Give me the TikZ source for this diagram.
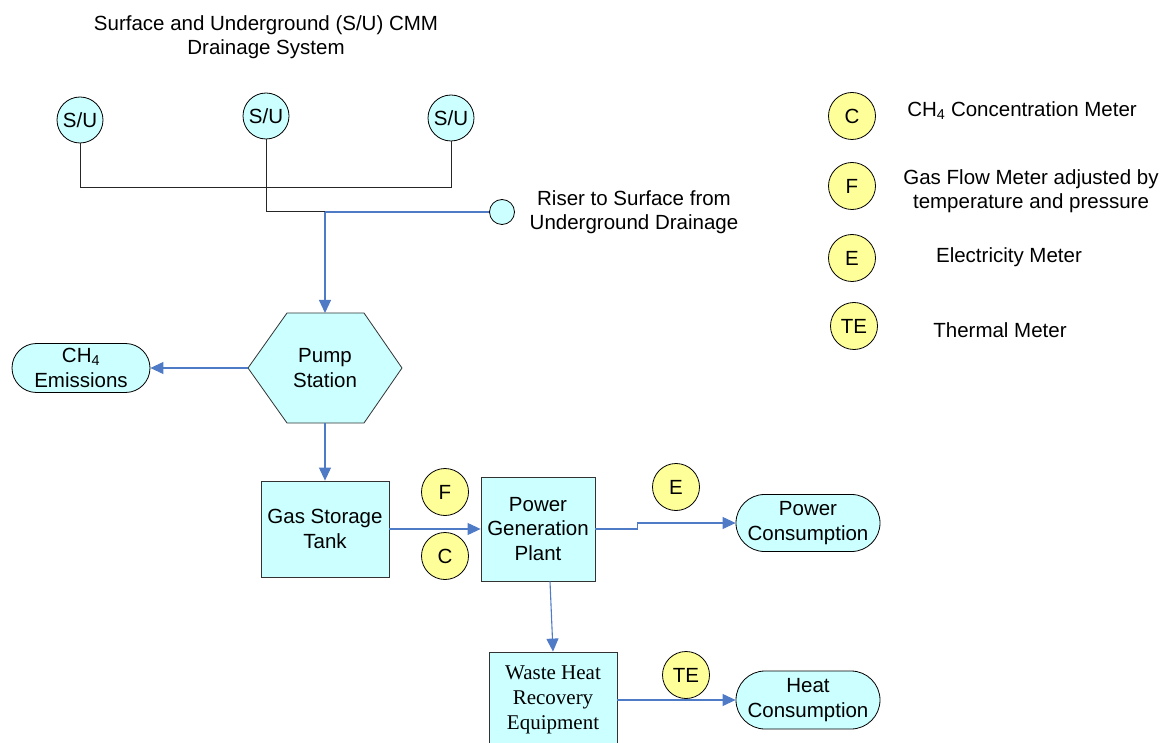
\documentclass[tikz,border=0pt]{standalone}
\usepackage{fontspec}
\setmainfont{Liberation Sans}
\newfontfamily\serifm{Liberation Serif}
\usetikzlibrary{arrows.meta,shapes.misc}
\definecolor{cyanf}{HTML}{CCFFFF}
\definecolor{yelf}{HTML}{FFFF99}
\definecolor{flowc}{HTML}{4F7BC6}
\tikzset{
  su/.style={circle,draw=black,fill=cyanf,minimum size=46pt,inner sep=0pt,line width=0.8pt},
  meter/.style={circle,draw=black,fill=yelf,minimum size=47pt,inner sep=0pt,line width=0.8pt},
  box/.style={rectangle,draw=black!80,fill=cyanf,align=center,line width=0.8pt},
  term/.style={rounded rectangle,draw=black,fill=cyanf,align=center,line width=0.8pt,inner sep=0pt},
  pipe/.style={draw=black!85,line width=1pt},
  flow/.style={draw=flowc,line width=1.1pt,-{Triangle[length=13pt,width=12pt]}},
  bflow/.style={draw=flowc,line width=1.1pt},
  lab/.style={align=center,inner sep=0pt}
}
\begin{document}
\begin{tikzpicture}[x=1pt,y=-1pt,font=\fontsize{20.5}{24.5}\selectfont]
\useasboundingbox (0,0) rectangle (1162,743);
\clip (0,0) rectangle (1162,743);
% title
\node[lab] (title) at (266,37) {Surface and Underground (S/U) CMM\\Drainage System};
% S/U sources
\node[su] (su1) at (80,120) {S/U};
\node[su] (su2) at (266,116) {S/U};
\node[su] (su3) at (451,118) {S/U};
\node[circle,draw=black,fill=cyanf,minimum size=25pt,inner sep=0pt,line width=0.8pt] (riser) at (502,212) {};
\node[lab] (risertxt) at (634,212) {Riser to Surface from\\Underground Drainage};
\coordinate (bus1) at (80,188);
\coordinate (bus3) at (451,188);
\coordinate (jn) at (325,212);
\draw[pipe] (su1.south) -- (bus1) -- (bus3) -- (su3.south);
\draw[pipe] (su2.south) |- (jn);
\draw[bflow] (jn) -- (riser.west);
% pump station
\coordinate (pumpT) at (325,313);
\coordinate (pumpB) at (325,423);
\coordinate (pumpL) at (248,368);
\draw[draw=black!80,fill=cyanf,line width=0.8pt] (248,368) -- (287,313) -- (364,313) -- (402,368) -- (364,423) -- (287,423) -- cycle;
\node[lab] (pump) at (325,368) {Pump\\Station};
\draw[flow] (jn) -- (pumpT);
% CH4 emissions
\node[term,minimum width=138pt,minimum height=49pt] (ch4) at (81,368) {CH\textsubscript{4}\\Emissions};
\draw[flow] (pumpL) -- (ch4.east);
% gas storage
\node[box,minimum width=128pt,minimum height=96pt] (gst) at (325,529) {Gas Storage\\Tank};
\draw[flow] (pumpB) -- (gst.north);
% power generation
\node[box,minimum width=114pt,minimum height=104pt] (pgp) at (538,529) {Power\\Generation\\Plant};
\draw[flow] (gst.east) -- (pgp.west);
\node[meter] (mf) at (445,492) {F};
\node[meter] (mc) at (445,556) {C};
% power consumption
\node[term,minimum width=144pt,minimum height=57pt] (pc) at (808,523) {Power\\Consumption};
\node[meter] (me) at (676,487) {E};
\draw[flow] (pgp.east) -- ++(42,0) |- (pc.west);
% waste heat
\node[box,minimum width=128pt,minimum height=96pt,font=\serifm\fontsize{21}{25}\selectfont] (wh) at (553,700) {Waste Heat\\Recovery\\Equipment};
\draw[flow] ([xshift=12pt]pgp.south) -- (wh.north);
% heat consumption
\node[term,minimum width=144pt,minimum height=58pt] (hc) at (808,700) {Heat\\Consumption};
\node[meter] (mte) at (686,675) {TE};
\draw[flow] (wh.east) -- (hc.west);
% legend
\node[meter] (lc) at (852,116) {C};
\node[meter] (lf) at (852,186) {F};
\node[meter] (le) at (852,258) {E};
\node[meter] (lte) at (854,326) {TE};
\node[lab] (lct) at (1022,111) {CH\textsubscript{4} Concentration Meter};
\node[lab] (lft) at (1031,191) {Gas Flow Meter adjusted by\\temperature and pressure};
\node[lab] (let) at (1009,257) {Electricity Meter};
\node[lab] (ltet) at (1000,330) {Thermal Meter};
\end{tikzpicture}
\end{document}
